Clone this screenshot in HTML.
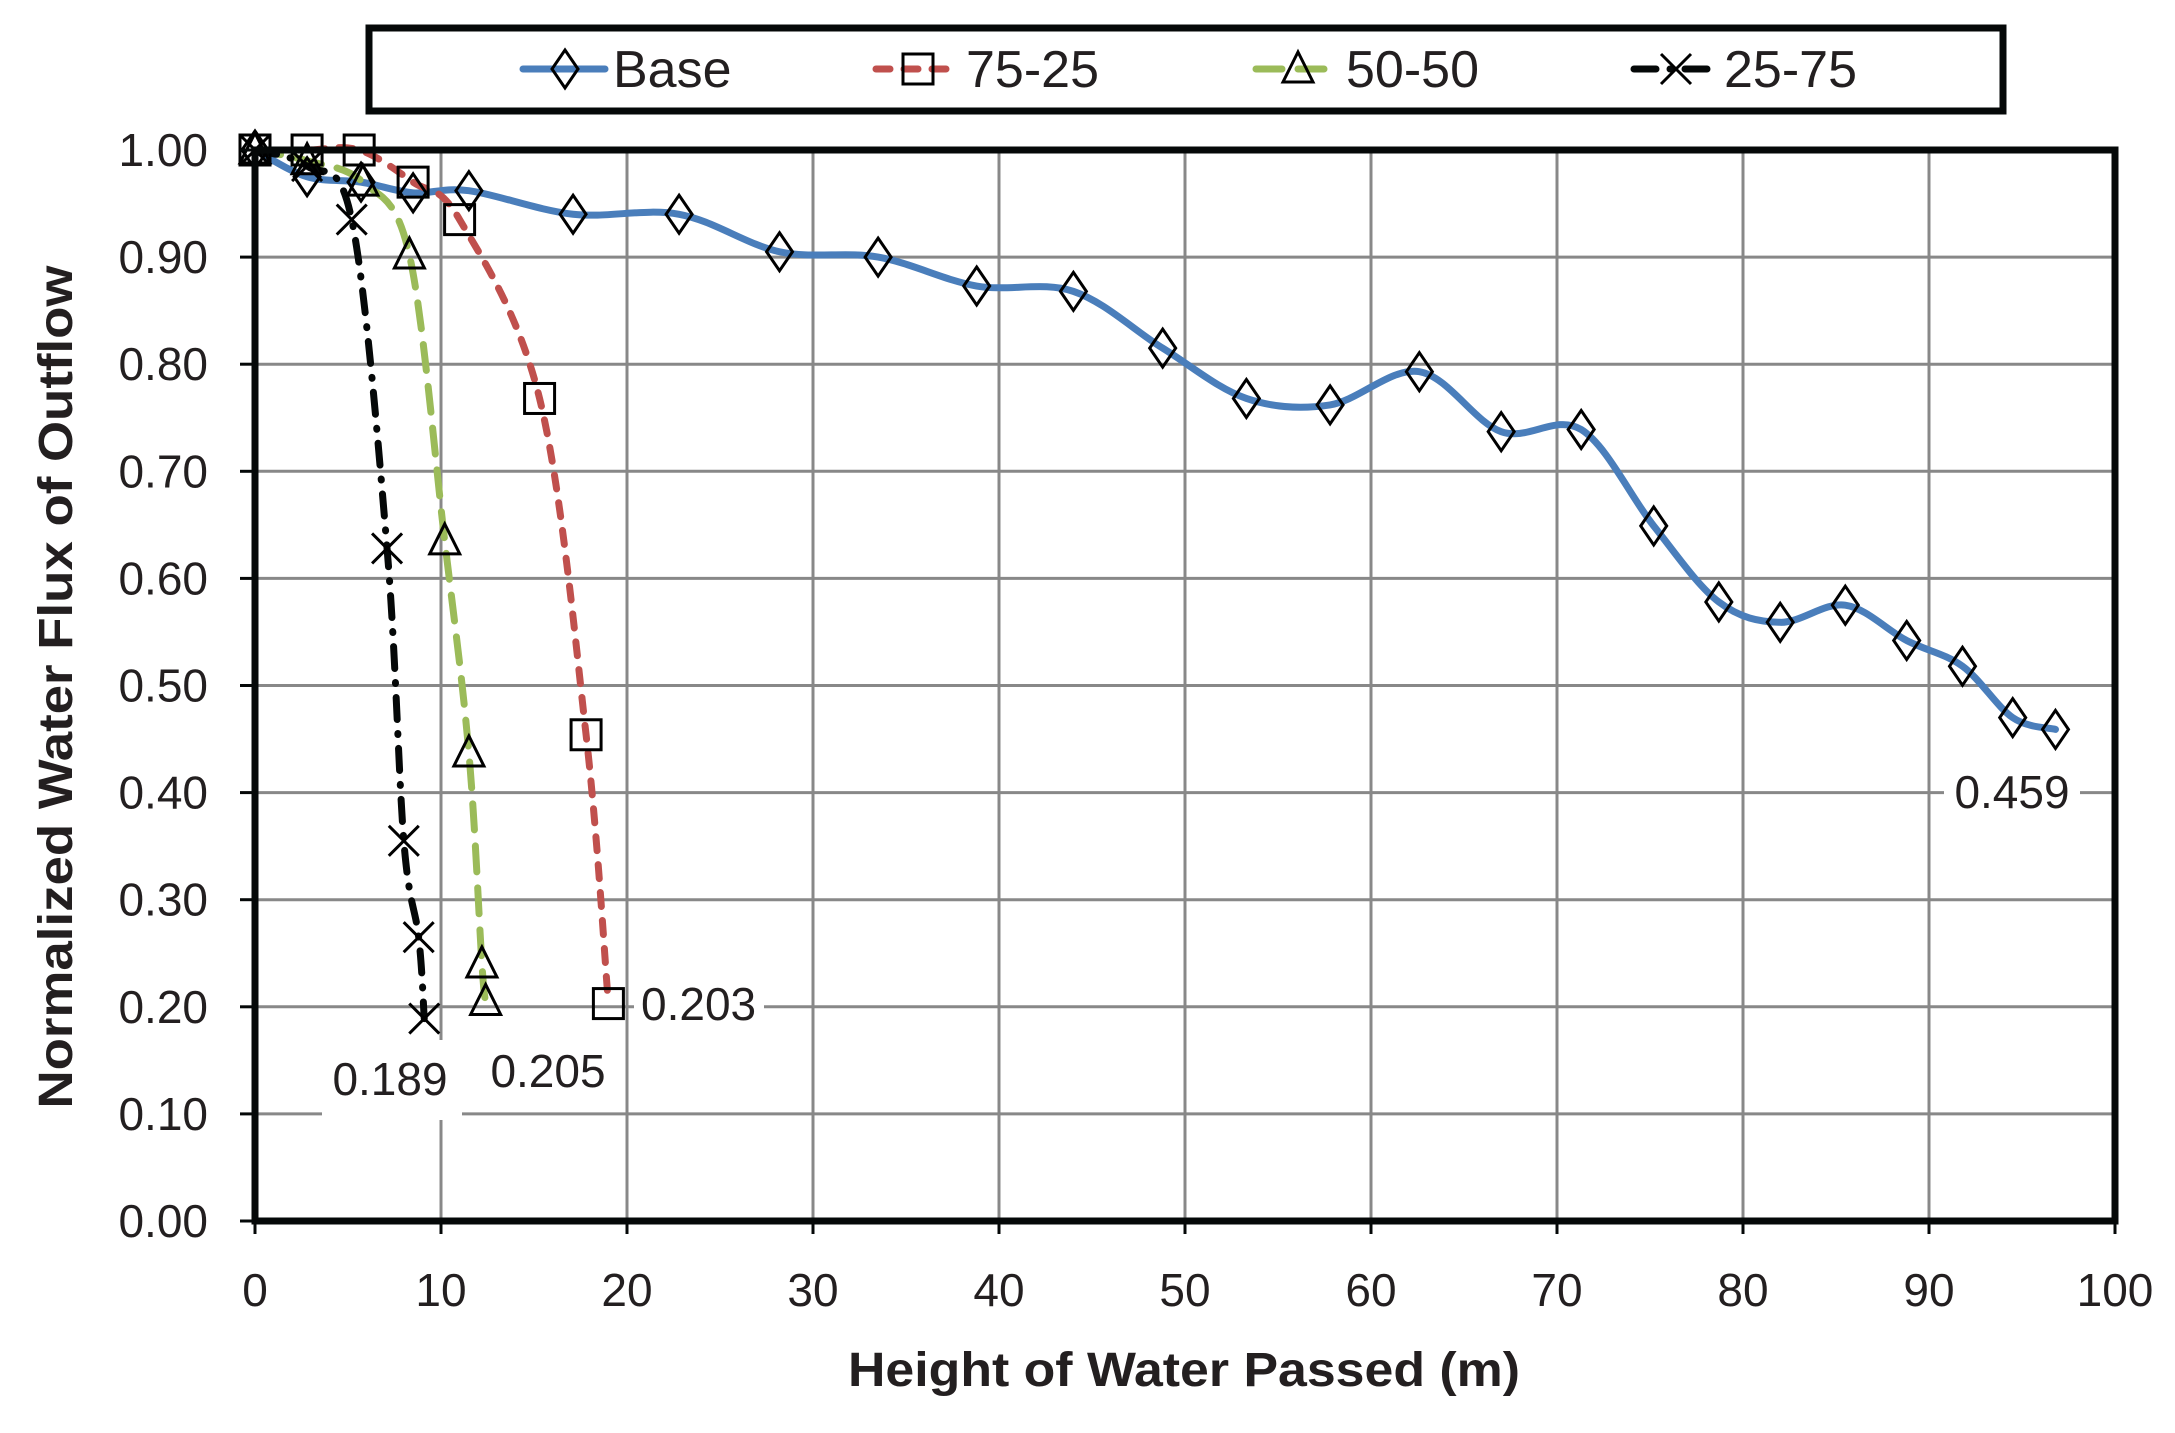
<!DOCTYPE html>
<html><head><meta charset="utf-8"><style>
html,body{margin:0;padding:0;background:#fff}
svg{display:block}
text{font-family:"Liberation Sans",sans-serif;fill:#231f20}
</style></head><body>
<svg id="s" width="2175" height="1433" viewBox="0 0 2175 1433" xmlns="http://www.w3.org/2000/svg">
<g id="grid" stroke="#888" stroke-width="3"></g>
<g id="series"></g>
<g id="labels"></g>
<rect x="255" y="150" width="1860" height="1071" fill="none" stroke="#050808" stroke-width="7"/>
<g id="ticks" stroke="#050808" stroke-width="3"></g>
<g id="ticklabels" font-size="46"></g>
<text x="1184" y="1386" font-size="48" font-weight="bold" text-anchor="middle" textLength="672" lengthAdjust="spacingAndGlyphs">Height of Water Passed (m)</text>
<text transform="translate(72,687) rotate(-90)" font-size="48" font-weight="bold" text-anchor="middle" textLength="843" lengthAdjust="spacingAndGlyphs">Normalized Water Flux of Outflow</text>
<rect x="369" y="28" width="1634" height="83" fill="#fff" stroke="#050808" stroke-width="7"/>
<g id="legend"></g>
</svg>
<script>
const NS="http://www.w3.org/2000/svg";
const X=v=>255+v*18.6, Y=v=>1221-v*1071;
function el(p,t,a,txt){const e=document.createElementNS(NS,t);for(const k in a)e.setAttribute(k,a[k]);if(txt!==undefined)e.textContent=txt;document.getElementById(p).appendChild(e);return e;}
// grid
for(let i=1;i<10;i++){el('grid','line',{x1:X(i*10),x2:X(i*10),y1:150,y2:1221});}
for(let i=1;i<10;i++){el('grid','line',{x1:255,x2:2115,y1:Y(i/10),y2:Y(i/10)});}
for(let i=0;i<=10;i++){el('ticks','line',{x1:X(i*10),x2:X(i*10),y1:1221,y2:1234});
 el('ticklabels','text',{x:X(i*10),y:1306,'text-anchor':'middle'},String(i*10));
 el('ticks','line',{x1:240,x2:255,y1:Y(i/10),y2:Y(i/10)});
 el('ticklabels','text',{x:208,y:Y(i/10)+16,'text-anchor':'end'},(i/10).toFixed(2));}
function path(pts){pts=pts.map(p=>[X(p[0]),Y(p[1])]);let d='M'+pts[0][0]+','+pts[0][1];
 for(let i=0;i<pts.length-1;i++){const p0=pts[i-1]||pts[i],p1=pts[i],p2=pts[i+1],p3=pts[i+2]||p2;
 const c1=[p1[0]+(p2[0]-p0[0])/6,p1[1]+(p2[1]-p0[1])/6],c2=[p2[0]-(p3[0]-p1[0])/6,p2[1]-(p3[1]-p1[1])/6];
 d+=`C${c1[0]},${c1[1]} ${c2[0]},${c2[1]} ${p2[0]},${p2[1]}`;}return d;}
function marker(g,type,x,y){const s=15;const a={fill:'none',stroke:'#000','stroke-width':3};
 if(type=='d')el(g,'path',Object.assign({d:`M${x},${y-s-4}L${x+s-2},${y}L${x},${y+s+4}L${x-s+2},${y}Z`},a));
 if(type=='s')el(g,'rect',Object.assign({x:x-s,y:y-s,width:2*s,height:2*s},a));
 if(type=='t')el(g,'path',Object.assign({d:`M${x},${y-s-2}L${x+s},${y+s-2}L${x-s},${y+s-2}Z`},a));
 if(type=='x')el(g,'path',Object.assign({d:`M${x-s},${y-s}L${x+s},${y+s}M${x+s},${y-s}L${x-s},${y+s}`},a));}
const S=[
 {c:'#4a7ebb',da:'',m:'d',p:[[0,1],[2.8,0.975],[5.7,0.97],[8.5,0.96],[11.5,0.962],[17.1,0.94],[22.8,0.94],[28.2,0.905],[33.5,0.9],[38.8,0.873],[44,0.868],[48.8,0.815],[53.3,0.768],[57.8,0.762],[62.6,0.793],[67,0.737],[71.3,0.739],[75.2,0.649],[78.7,0.578],[82,0.559],[85.5,0.575],[88.8,0.542],[91.8,0.518],[94.5,0.47],[96.8,0.459]]},
 {c:'#c0504d',da:'14 14',m:'s',p:[[0,1],[2.8,1],[5.6,1],[8.5,0.97],[11,0.935],[15.3,0.768],[17.8,0.454],[19,0.203]]},
 {c:'#9bbb59',da:'26 16',m:'t',p:[[0,1],[2.8,0.99],[5.8,0.97],[8.3,0.902],[10.2,0.635],[11.5,0.437],[12.2,0.24],[12.4,0.205]]},
 {c:'#050808',da:'22 14 1 14',m:'x',p:[[0,1],[2.8,0.985],[5.2,0.935],[7.1,0.628],[8.0,0.355],[8.8,0.265],[9.1,0.189]]}];
S.forEach(s=>{el('series','path',{d:path(s.p),fill:'none',stroke:s.c,'stroke-width':7,'stroke-dasharray':s.da,'stroke-linecap':'round'});});
S.forEach(s=>{s.p.forEach(p=>marker('series',s.m,X(p[0]),Y(p[1])));});
// data labels
el('labels','rect',{x:1944,y:766,width:136,height:54,fill:'#fff'});
el('labels','text',{x:2012,y:808,'font-size':46,'text-anchor':'middle'},'0.459');
el('labels','rect',{x:634,y:980,width:130,height:54,fill:'#fff'});
el('labels','text',{x:641,y:1020,'font-size':46},'0.203');
el('labels','rect',{x:322,y:1040,width:140,height:80,fill:'#fff'});
el('labels','text',{x:390,y:1095,'font-size':46,'text-anchor':'middle'},'0.189');
el('labels','rect',{x:480,y:1040,width:135,height:60,fill:'#fff'});
el('labels','text',{x:548,y:1087,'font-size':46,'text-anchor':'middle'},'0.205');
// legend
const L=[[523,'Base'],[876,'75-25'],[1256,'50-50'],[1634,'25-75']];
L.forEach((l,i)=>{const s=S[i];el('legend','line',{x1:l[0],x2:l[0]+82,y1:69,y2:69,stroke:s.c,'stroke-width':7,'stroke-dasharray':s.da,'stroke-linecap':'round'});
 marker('legend',s.m,l[0]+42,69);
 el('legend','text',{x:l[0]+90,y:87,'font-size':52},l[1]);});
</script>
</body></html>
